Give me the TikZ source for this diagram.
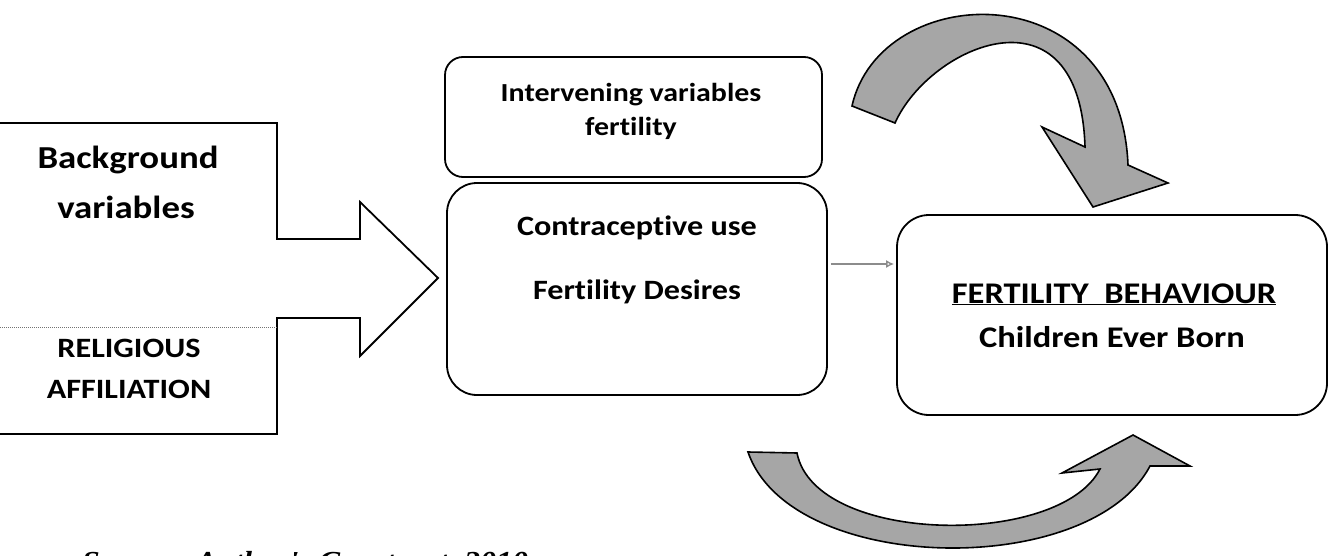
\documentclass[tikz,border=0pt]{standalone}
\usepackage{fontspec}
\newfontfamily\calfont[FakeStretch=1.15,RawFeature={-liga}]{Carlito}
\newfontfamily\srcfont[FakeStretch=1.1]{Liberation Serif}
\usetikzlibrary{arrows.meta}
\newcommand\fsz[1]{\fontsize{#1}{#1}\selectfont}
\begin{document}
\begin{tikzpicture}[x=1pt,y=-1pt,
  box/.style={draw=black,line width=1.8pt,rounded corners=#1,inner sep=0pt},
  lbl/.style={anchor=base,inner sep=0pt},
  bigarrow/.style={draw=black,line width=1.6pt,fill=black!35,line join=miter},
  outline/.style={draw=black,line width=1.8pt},
  thinarrow/.style={draw=black!45,line width=1.4pt,-{Latex[open,length=8pt,width=8pt]}},
]
\useasboundingbox (0,0) rectangle (1332,556);
\clip (0,0) rectangle (1332,556);
\fill[white] (0,0) rectangle (1332,556);

% left block arrow
\draw[outline] (-5,123) -- (277,123) -- (277,239) -- (360,239) -- (360,202)
  -- (438,278) -- (360,356) -- (360,318) -- (277,318) -- (277,434) -- (-5,434);
\draw[black!55,line width=1pt,densely dotted] (0,327) -- (277,327);

% boxes
\node[box=18pt,minimum width=377pt,minimum height=120pt] (iv) at (633.5,117) {};
\node[box=30pt,minimum width=380pt,minimum height=212pt] (mid) at (637,289) {};
\node[box=32pt,minimum width=430pt,minimum height=200pt] (fb) at (1112,315) {};

% texts
\node[lbl,font=\calfont\bfseries\fsz{32}] (bg1) at (128,168) {Background};
\node[lbl,font=\calfont\bfseries\fsz{32}] (bg2) at (126,218) {variables};
\node[lbl,font=\calfont\bfseries\fsz{28}] (rel1) at (129,357) {RELIGIOUS};
\node[lbl,font=\calfont\bfseries\fsz{28}] (rel2) at (129,398) {AFFILIATION};
\node[lbl,font=\calfont\bfseries\fsz{26}] (iv1) at (631,102) {Intervening variables};
\node[lbl,font=\calfont\bfseries\fsz{26}] (iv2) at (631,136) {fertility};
\node[lbl,font=\calfont\bfseries\fsz{28}] (m1) at (637,235) {Contraceptive use};
\node[lbl,font=\calfont\bfseries\fsz{28}] (m2) at (637,299) {Fertility Desires};
\node[lbl,font=\calfont\bfseries\fsz{30}] (fb1) at (1114,303) {\underline{FERTILITY\ \ BEHAVIOUR}};
\node[lbl,font=\calfont\bfseries\fsz{30}] (fb2) at (1112,347) {Children Ever Born};
\node[anchor=base west,inner sep=0pt,font=\srcfont\bfseries\itshape\fsz{29}] (src) at (82,571) {Source: Author's Construct, 2010};

% small connector
\coordinate (ay) at (0,264);
\draw[thinarrow,shorten <=3pt,shorten >=2pt] (mid.east |- ay) -- (fb.west |- ay);

% curved arrows
\draw[bigarrow] (852,106) .. controls (880,-20) and (1120,-30) .. (1128,165)
  -- (1168,183) -- (1093,207) -- (1042,127) -- (1085,147)
  .. controls (1080,-20) and (930,45) .. (895,123) -- cycle;
\draw[bigarrow] (748,452) .. controls (790,575) and (1090,580) .. (1150,466)
  -- (1190,466) -- (1133,435) -- (1062,473) -- (1100,469)
  .. controls (1060,548) and (815,545) .. (797,453) -- cycle;
\end{tikzpicture}
\end{document}
